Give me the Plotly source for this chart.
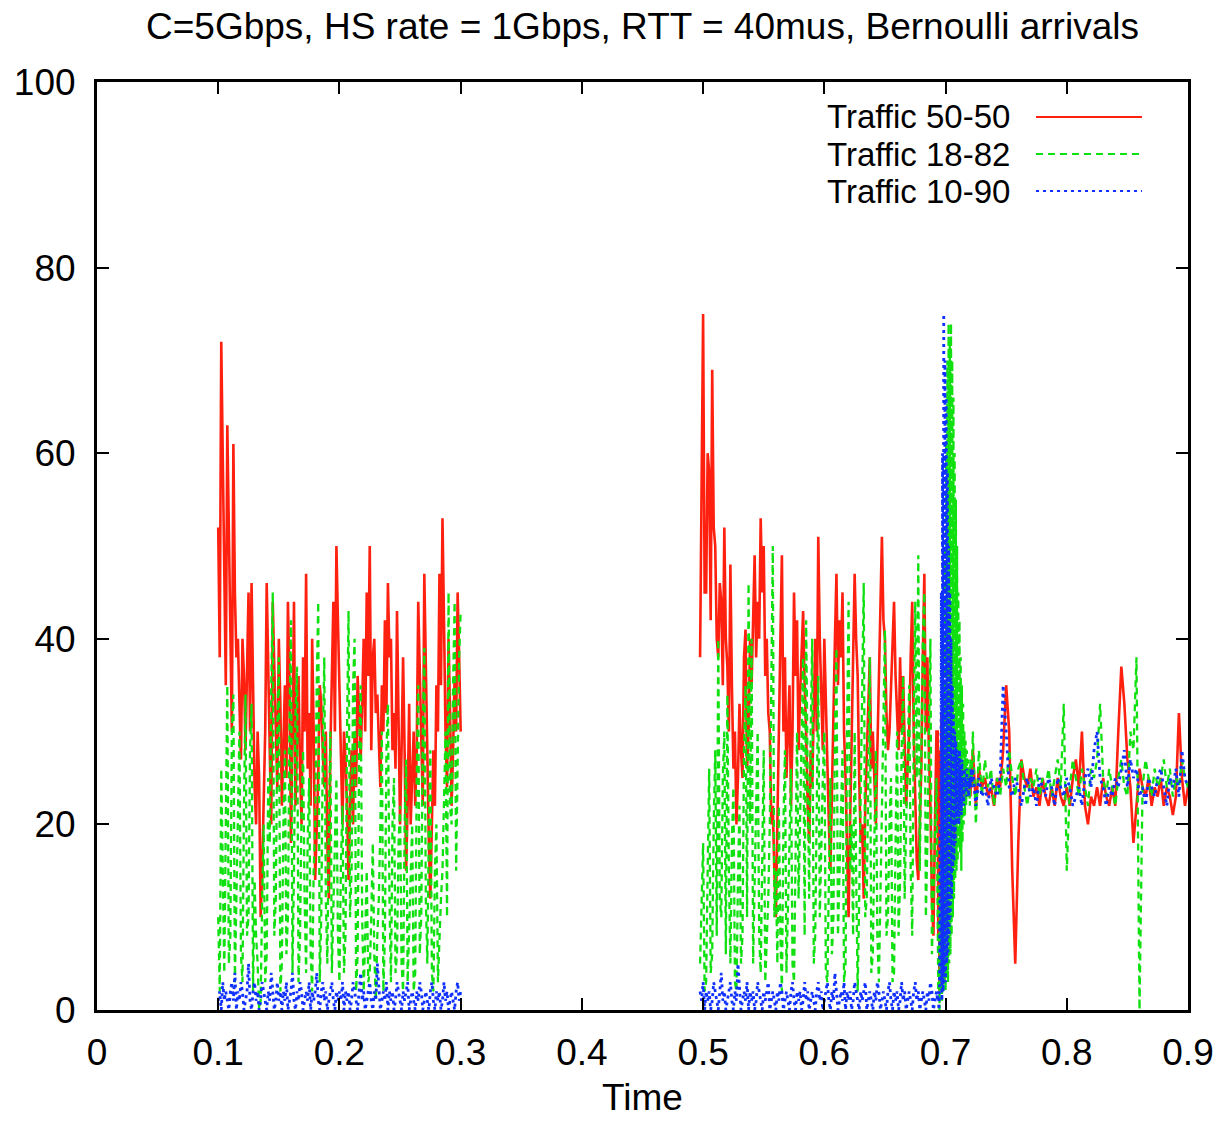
import numpy as np
import plotly.graph_objects as go

# sampled time grids: (start, step) per segment
seg_a = (0.1, 0.00125)     # first burst
seg_b = (0.4975, 0.00125)  # second burst
seg_s = (0.6935, 0.0005)   # spike around 0.7
seg_c = (0.7225, 0.0025)   # steady part

red_a = [52, 38, 72, 60, 48, 35, 63, 50, 42, 30, 61, 45, 38, 40, 33, 27, 40, 36, 28, 35,
         45, 30, 46, 35, 24, 20, 30, 25, 10, 15, 22, 30, 46, 35, 28, 20, 44, 37, 30, 24,
         40, 33, 22, 28, 35, 25, 44, 36, 18, 30, 44, 22, 30, 36, 26, 20, 38, 30, 47, 26,
         32, 22, 40, 30, 14, 20, 25, 35, 33, 28, 24, 30, 18, 12, 28, 36, 44, 30, 50, 42,
         35, 28, 20, 30, 27, 22, 14, 22, 28, 20, 30, 24, 36, 32, 27, 33, 40, 30, 45, 36,
         50, 28, 38, 40, 32, 34, 28, 24, 35, 30, 42, 32, 46, 38, 40, 28, 32, 26, 43, 30,
         20, 28, 38, 28, 15, 22, 33, 20, 25, 30, 22, 28, 44, 36, 30, 22, 47, 38, 25, 18,
         12, 20, 28, 22, 35, 30, 47, 35, 53, 42, 30, 24, 40, 32, 22, 28, 36, 30, 45, 38,
         30]
green_a = [10, 2, 26, 15, 4, 20, 35, 5, 8, 30, 34, 3, 12, 25, 30, 6, 3, 22, 34, 8,
           10, 28, 33, 2, 14, 8, 5, 0, 1, 12, 20, 3, 6, 25, 18, 35, 45, 8, 12, 30,
           38, 2, 5, 20, 28, 6, 10, 30, 42, 4, 15, 32, 37, 3, 8, 22, 28, 12, 4, 18,
           25, 6, 2, 15, 20, 35, 44, 3, 10, 28, 38, 12, 5, 20, 30, 4, 12, 18, 25, 8,
           3, 16, 22, 4, 8, 30, 43, 10, 15, 35, 40, 2, 6, 28, 35, 10, 2, 8, 15, 3,
           4, 10, 18, 6, 1, 8, 12, 20, 30, 2, 8, 28, 33, 12, 3, 20, 25, 4, 6, 18,
           22, 5, 2, 20, 27, 3, 9, 16, 20, 2, 4, 25, 35, 6, 10, 30, 39, 12, 5, 20,
           28, 4, 2, 15, 20, 3, 8, 12, 15, 25, 30, 10, 45, 22, 20, 35, 44, 15, 28, 38,
           43]
blue_a = [1, 2, 0, 3, 1, 2, 1, 0, 2, 3, 1, 4, 0, 2, 1, 3, 2, 0, 1, 2,
          5, 1, 0, 2, 3, 1, 2, 0, 1, 3, 2, 1, 0, 2, 1, 4, 2, 0, 1, 3,
          1, 2, 0, 2, 1, 3, 0, 1, 2, 4, 1, 0, 2, 1, 3, 2, 0, 1, 2, 1,
          3, 0, 2, 1, 2, 4, 1, 0, 2, 3, 1, 2, 0, 1, 2, 3, 1, 0, 2, 1,
          2, 1, 3, 0, 2, 1, 2, 0, 1, 3, 2, 1, 0, 2, 4, 1, 2, 0, 1, 2,
          3, 1, 0, 2, 1, 5, 2, 0, 1, 2, 1, 3, 0, 2, 1, 2, 0, 1, 3, 2,
          1, 0, 2, 1, 2, 3, 0, 1, 2, 1, 0, 2, 1, 3, 2, 0, 1, 2, 1, 0,
          2, 3, 1, 0, 2, 1, 2, 0, 1, 3, 1, 2, 0, 1, 2, 1, 0, 2, 3, 1,
          2]

red_b = [38, 55, 75, 45, 45, 60, 58, 42, 69, 52, 50, 40, 38, 46, 44, 35, 52, 40, 37, 30,
         48, 35, 26, 30, 20, 25, 33, 28, 25, 38, 41, 26, 30, 40, 35, 42, 49, 38, 44, 40,
         53, 45, 50, 36, 40, 32, 30, 20, 22, 15, 10, 20, 32, 40, 49, 30, 38, 25, 30, 35,
         22, 30, 45, 36, 42, 28, 34, 38, 43, 35, 30, 22, 18, 28, 24, 32, 40, 30, 51, 40,
         35, 28, 40, 32, 28, 20, 15, 25, 33, 40, 47, 35, 42, 38, 45, 30, 25, 18, 10, 20,
         30, 38, 47, 40, 36, 25, 18, 20, 12, 22, 28, 33, 38, 26, 30, 25, 20, 28, 35, 42,
         51, 42, 40, 32, 28, 30, 35, 40, 44, 36, 32, 28, 38, 30, 36, 28, 22, 26, 30, 38,
         44, 30, 22, 16, 14, 20, 26, 38, 47, 30, 38, 28, 22, 12, 8, 20,
         30]
green_b = [5, 12, 18, 2, 3, 15, 26, 4, 6, 20, 28, 8, 40, 12, 10, 25, 30, 6, 34, 15,
           5, 18, 24, 3, 2, 14, 22, 5, 8, 28, 35, 10, 46, 20, 40, 5, 12, 22, 30, 8,
           4, 15, 28, 3, 8, 12, 20, 35, 50, 10, 15, 5, 22, 8, 2, 20, 28, 4, 10, 18,
           26, 5, 3, 20, 30, 12, 20, 30, 38, 8, 42, 25, 12, 30, 40, 5, 8, 22, 36, 10,
           18, 25, 30, 4, 3, 15, 25, 6, 10, 30, 39, 8, 15, 22, 28, 3, 5, 30, 44, 15,
           20, 8, 30, 15, 2, 12, 25, 35, 46, 10, 12, 25, 38, 4, 6, 18, 28, 8, 3, 12,
           22, 35, 41, 8, 10, 20, 25, 3, 4, 18, 30, 8, 14, 28, 36, 12, 20, 30, 35, 15,
           8, 30, 44, 25, 49, 15, 30, 40, 45, 10, 18, 30, 40, 6, 12, 20,
           25]
blue_b = [2, 1, 3, 0, 2, 1, 2, 0, 1, 3, 2, 1, 0, 2, 4, 1, 2, 0, 1, 2,
          3, 1, 0, 2, 1, 5, 2, 0, 1, 2, 1, 3, 0, 2, 1, 2, 0, 1, 3, 2,
          1, 0, 2, 1, 2, 3, 0, 1, 2, 1, 0, 2, 1, 3, 2, 0, 1, 2, 1, 0,
          2, 3, 1, 0, 2, 1, 2, 0, 1, 3, 1, 2, 0, 1, 2, 1, 0, 2, 3, 1,
          2, 0, 1, 2, 3, 1, 0, 2, 1, 4, 2, 0, 1, 2, 1, 3, 0, 2, 1, 2,
          0, 1, 3, 2, 1, 0, 2, 1, 2, 3, 0, 1, 2, 1, 0, 2, 1, 3, 2, 0,
          1, 2, 1, 0, 2, 3, 1, 0, 2, 1, 2, 0, 1, 3, 1, 2, 0, 1, 2, 1,
          0, 2, 3, 1, 2, 0, 1, 2, 1, 0, 2, 1, 3, 2, 0, 1,
          2]

red_s = [30, 8, 25, 2, 28, 10, 32, 5, 30, 12, 28, 3, 26, 15, 30, 18,
         22, 28, 16, 26, 20, 30, 18, 25, 22, 28, 20, 27, 17, 24, 22, 26, 23, 25, 22, 27,
         24, 23, 26, 24, 25, 23, 26, 22, 25, 24, 23, 26, 24, 25, 23, 24, 26, 24, 23, 25, 24]
green_s = [10, 2, 15, 0, 12, 3, 18, 1, 22, 2,
           35, 3, 50, 2, 62, 4, 70, 3, 74, 5,
           72, 6, 74, 8, 70, 10, 66, 12, 60, 14, 55, 15, 50, 16,
           45, 18, 42, 17, 38, 15, 35, 18, 33, 20, 30,
           21, 29, 22, 28, 23, 27, 24, 26, 22, 27, 25, 24]
blue_s = [1, 2, 0, 2,
          20, 3, 45, 1, 60, 2, 75, 4, 70, 3, 66, 5, 58, 6, 50, 8,
          45, 10, 40, 12, 35, 15, 32, 16, 30, 18, 29, 20, 28, 21,
          27, 20, 28, 22, 26, 21, 27, 23, 25, 22, 26, 24, 25, 23, 26, 24, 25, 23, 24, 25,
          24, 26, 24]

red_c = [28, 22, 26, 24, 25, 23, 24, 22, 25, 24, 28, 35, 30, 15, 5, 18, 27, 25, 24, 26,
         23, 24, 22, 25, 23, 22, 24, 22, 25, 23, 22, 24, 22, 25, 27, 24, 30, 22, 20, 23,
         22, 24, 22, 25, 23, 22, 24, 22, 30, 37, 33, 27, 24, 18, 22, 26, 24, 23, 25, 22,
         24, 23, 25, 22, 24, 23, 21, 23, 32, 25, 22, 24]
green_c = [30, 20, 28, 23, 27, 24, 26, 22, 25, 23, 26, 24, 28, 25, 23, 26, 27, 24, 22, 25,
           24, 26, 23, 25, 24, 26, 23, 25, 27, 24, 33, 15, 24, 27, 25, 23, 26, 24, 22, 26,
           25, 27, 33, 25, 23, 26, 24, 22, 25, 27, 24, 23, 30, 28, 38, 0, 24, 27, 25, 23,
           26, 24, 25, 27, 24, 26, 23, 25, 24, 27, 25, 24]
blue_c = [26, 22, 25, 23, 24, 22, 25, 24, 23, 25, 35, 30, 24, 23, 25, 24, 22, 24, 25, 23,
          24, 22, 25, 24, 23, 25, 24, 22, 25, 24, 23, 25, 24, 22, 23, 24, 22, 25, 26, 24,
          28, 30, 25, 24, 22, 24, 23, 25, 24, 26, 28, 24, 27, 25, 26, 23, 24, 22, 25, 24,
          23, 25, 26, 24, 22, 25, 24, 26, 23, 28, 25, 24]

names = ["Traffic 50-50", "Traffic 18-82", "Traffic 10-90"]
colors = ["#ff2010", "#10e010", "#1030ff"]
dashes = ["solid", "7px,5px", "3px,4px"]
widths = [2.6, 2.3, 2.8]

x_ticks = [0, 0.1, 0.2, 0.3, 0.4, 0.5, 0.6, 0.7, 0.8, 0.9]
y_ticks = [0, 20, 40, 60, 80, 100]


def times(seg, vals):
    start, step = seg
    return list(np.round(start + step * np.arange(len(vals)), 5))


def build(a, b, s, c):
    x = times(seg_a, a) + [None] + times(seg_b, b) + times(seg_s, s) + times(seg_c, c)
    y = list(a) + [None] + list(b) + list(s) + list(c)
    return x, y


series = [build(red_a, red_b, red_s, red_c),
          build(green_a, green_b, green_s, green_c),
          build(blue_a, blue_b, blue_s, blue_c)]

fig = go.Figure()
for (x, y), name, col, dash, w in zip(series, names, colors, dashes, widths):
    fig.add_trace(go.Scatter(x=x, y=y, mode="lines", name=name, connectgaps=False,
                             line=dict(color=col, width=w, dash=dash)))

font = dict(family="Liberation Sans, Arial, sans-serif", size=37, color="black")
key_font = dict(font, size=33)

# gnuplot-style key: text right-aligned, sample line on the right
key_y = [0.9623, 0.9224, 0.8825]
for name, col, dash, ky in zip(names, colors, dashes, key_y):
    fig.add_annotation(x=0.8387, y=ky, xref="paper", yref="paper", text=name,
                       showarrow=False, xanchor="right", yanchor="middle", font=key_font)
    fig.add_shape(type="line", xref="paper", yref="paper", x0=0.8607, x1=0.9578,
                  y0=ky, y1=ky, line=dict(color=col, width=2, dash=dash))

fig.add_annotation(x=0.5, y=-0.0948, xref="paper", yref="paper", text="Time",
                   showarrow=False, xanchor="center", yanchor="middle", font=font)

axis = dict(showline=True, linewidth=3, linecolor="black", mirror="allticks",
            ticks="inside", ticklen=12, tickwidth=2, tickcolor="black",
            showgrid=False, zeroline=False, tickfont=font, automargin=False)

fig.update_layout(
    width=1221, height=1122,
    margin=dict(l=97, r=33, t=82, b=112, autoexpand=False),
    paper_bgcolor="white", plot_bgcolor="white",
    font=font, showlegend=False,
    title=dict(text="C=5Gbps, HS rate = 1Gbps, RTT = 40mus, Bernoulli arrivals",
               x=0.5, xref="paper", y=0.9768, yref="container", yanchor="middle",
               font=font),
)
fig.update_xaxes(range=[0, 0.9], tickvals=x_ticks, ticktext=[str(v) for v in x_ticks],
                 ticklabelstandoff=8, **axis)
fig.update_yaxes(range=[0, 100], tickvals=y_ticks, ticklabelstandoff=11, **axis)

fig.write_html("out.html", config={"displayModeBar": False},
               post_script="document.body.style.margin = '0';")
